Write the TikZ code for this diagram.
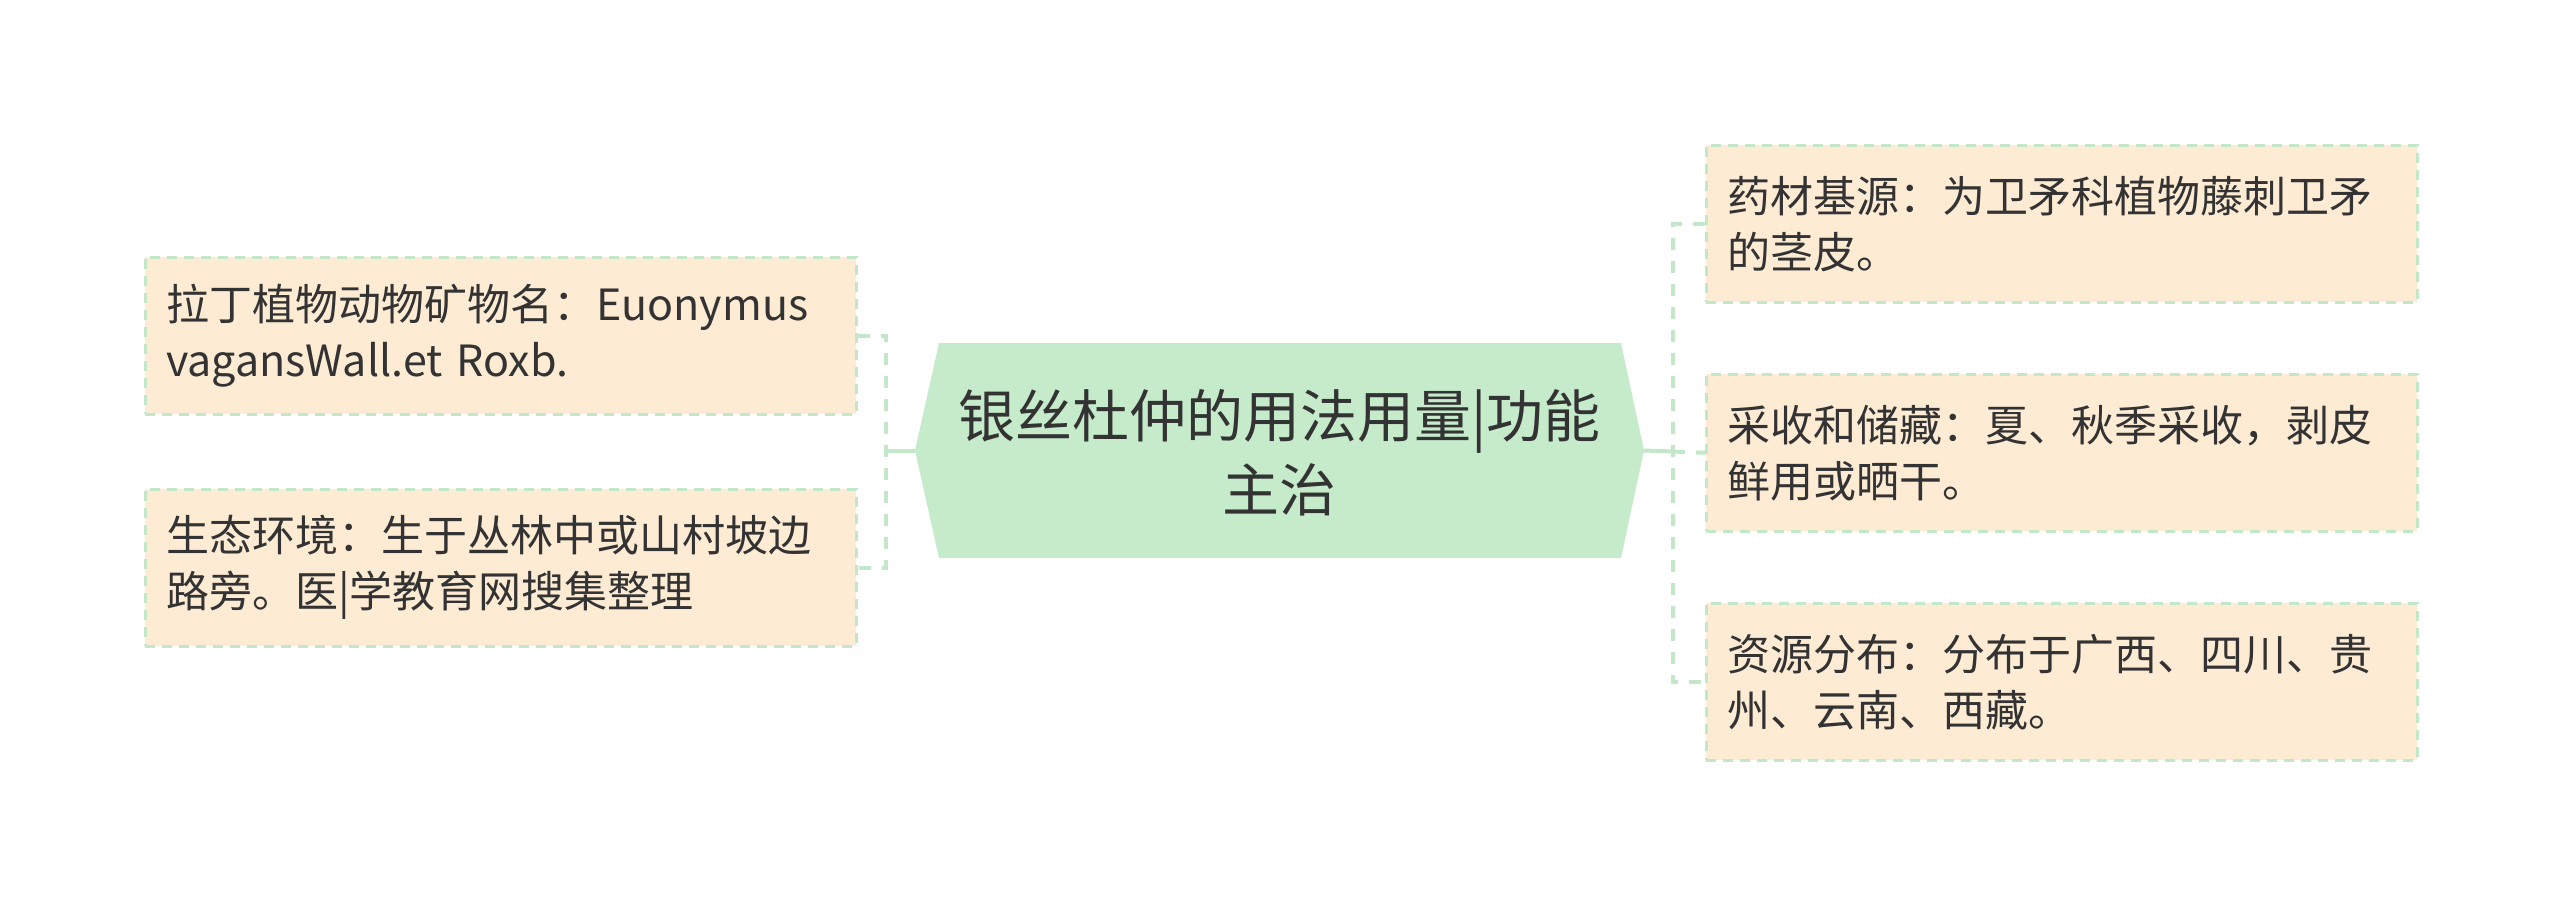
\documentclass[tikz,border=0pt]{standalone}
\usepackage{fontspec}
\setmainfont{Noto Sans CJK SC}
\definecolor{lineg}{HTML}{C2E8C9}
\definecolor{hexfill}{HTML}{C5EBCB}
\definecolor{leaffill}{HTML}{FDEBD4}
\definecolor{txt}{HTML}{333333}
\begin{document}
\begin{tikzpicture}[x=1pt,y=-1pt,
  leaf/.style={draw=lineg, line width=2.5pt, dash pattern=on 10pt off 7pt, fill=leaffill, text=txt,
    minimum width=711pt, minimum height=157pt, text width=669pt, inner xsep=21pt, inner ysep=0pt,
    align=left, font=\fontsize{43}{56}\selectfont, anchor=north west},
  conn/.style={draw=lineg, line width=4pt, dash pattern=on 12pt off 11pt},
  solidconn/.style={draw=lineg, line width=4pt}]
\fill[white] (0,0) rectangle (2560,903);
\useasboundingbox (0,0) rectangle (2560,903);
% central hexagon
\coordinate (hl) at (915,450.5);
\coordinate (hr) at (1644,450.5);
\fill[hexfill] (hl) -- (939,343) -- (1621,343) -- (hr) -- (1621,558) -- (939,558) -- cycle;
\node[font=\fontsize{57}{74}\selectfont, align=center, text=txt, inner sep=0pt] (root) at (1279.5,453)
  {银丝杜仲的用法用量|功能\\主治};
% left leaves
\node[leaf] (l1) at (144,256) {拉丁植物动物矿物名：Euonymus\\vagansWall.et Roxb.};
\node[leaf] (l2) at (144,488) {生态环境：生于丛林中或山村坡边\\路旁。医|学教育网搜集整理};
% right leaves
\node[leaf] (r1) at (1705,144) {药材基源：为卫矛科植物藤刺卫矛\\的茎皮。};
\node[leaf] (r2) at (1705,373) {采收和储藏：夏、秋季采收，剥皮\\鲜用或晒干。};
\node[leaf] (r3) at (1705,602) {资源分布：分布于广西、四川、贵\\州、云南、西藏。};
% connectors
\coordinate (lb) at (886,450.5);
\coordinate (rb) at (1673,451.5);
\draw[solidconn] (hl) -- (lb);
\draw[conn] (l1.east) -| (lb) |- (l2.east);
\draw[solidconn] (hr) -- (rb);
\draw[conn] (r1.west) -| (rb) |- (r3.west);
\draw[conn] (rb) -- (r2.west);
\end{tikzpicture}
\end{document}
